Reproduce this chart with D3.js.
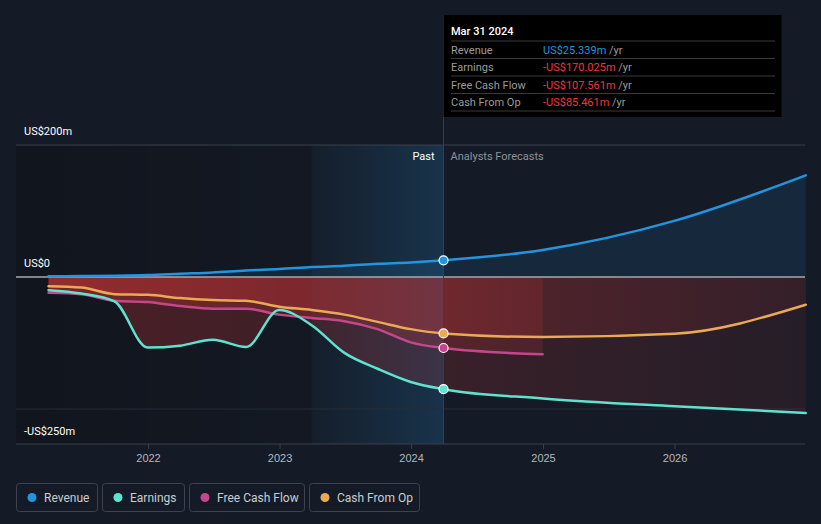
<!DOCTYPE html>
<html><head><meta charset="utf-8">
<script src="https://cdn.jsdelivr.net/npm/d3@7/dist/d3.min.js"></script>
<style>
html,body{margin:0;padding:0;background:#151b26;}
svg{display:block;font-family:Roboto,"Open Sans",sans-serif;}
</style></head>
<body><svg id="c" width="821" height="524"></svg>
<script>
// ---------- data ----------
const pastDates = ["2021-03-31","2021-06-30","2021-09-30","2021-12-31","2022-03-31","2022-06-30","2022-09-30","2022-12-31","2023-03-31","2023-06-30","2023-09-30","2023-12-31","2024-03-31"];
const revenuePast  = [1, 1.5, 2, 3, 5, 7, 10, 12, 15, 17, 20, 22, 25.339];
const earningsPast = [-20, -25, -37, -107, -104, -95, -106, -50, -73, -115, -139, -159, -170.025];
const fcfPast      = [-24, -26, -36, -38, -44, -48, -48, -57, -62, -67, -79, -99, -107.561];
const cfoPast      = [-14, -16, -26, -27, -32, -35, -36, -45, -50, -57, -68, -79, -85.461];

const fcDates = ["2024-03-31","2024-12-31","2025-12-31","2026-12-31"];
const revenueFc  = [25.339, 41, 85, 154];
const earningsFc = [-170.025, -184, -196, -206];
const cfoFc      = [-85.461, -91, -86, -42];
const fcfFcDates = ["2024-03-31","2024-12-31"];
const fcfFc      = [-107.561, -117];

const yearTicks = [2022, 2023, 2024, 2025, 2026];
const yTickVals = [200, 0, -250];
const yTickLabels = ["US$200m", "US$0", "-US$250m"];
const legendNames = ["Revenue", "Earnings", "Free Cash Flow", "Cash From Op"];
const colors = ["#2394df", "#5fe3cf", "#c5478b", "#e9a955"];
const tipTitle = "Mar 31 2024";
const tipLabels = ["Revenue", "Earnings", "Free Cash Flow", "Cash From Op"];
const tipValues = ["US$25.339m", "-US$170.025m", "-US$107.561m", "-US$85.461m"];
const pastDate = "2024-03-31";
const highlightStart = "2023-03-31";

// ---------- setup ----------
const svg = d3.select("#c");
const parse = d3.timeParse("%Y-%m-%d");
const L = 16, R = 805, TOP = 145, BOT = 444;
const x = d3.scaleTime().domain([new Date(2022,0,1), new Date(2025,0,1)]).range([148, 543]);
const y = d3.scaleLinear().domain([-250, 200]).range([442, 145]);
const zip = (ds, vs) => ds.map((d,i) => ({date: parse(d), v: vs[i]}));

const series = [
  {past: zip(pastDates, revenuePast), fc: zip(fcDates, revenueFc)},
  {past: zip(pastDates, earningsPast), fc: zip(fcDates, earningsFc)},
  {past: zip(pastDates, fcfPast), fc: zip(fcfFcDates, fcfFc)},
  {past: zip(pastDates, cfoPast), fc: zip(fcDates, cfoFc)}
];

const defs = svg.append("defs");
const gDark = defs.append("linearGradient").attr("id","gDark").attr("x1","0").attr("x2","1");
gDark.append("stop").attr("offset","0").attr("stop-color","#000").attr("stop-opacity",0.22);
gDark.append("stop").attr("offset","1").attr("stop-color","#000").attr("stop-opacity",0.1);
const gHi = defs.append("linearGradient").attr("id","gHi").attr("x1","0").attr("x2","1");
gHi.append("stop").attr("offset","0").attr("stop-color","#2394df").attr("stop-opacity",0.03);
gHi.append("stop").attr("offset","1").attr("stop-color","#2394df").attr("stop-opacity",0.2);
const gRed = defs.append("linearGradient").attr("id","gRed").attr("gradientUnits","userSpaceOnUse")
  .attr("x1", L).attr("x2", R).attr("y1",0).attr("y2",0);
gRed.append("stop").attr("offset","0").attr("stop-color","#dc3738").attr("stop-opacity",0.3);
gRed.append("stop").attr("offset","0.54").attr("stop-color","#dc3738").attr("stop-opacity",0.18);
gRed.append("stop").attr("offset","1").attr("stop-color","#dc3738").attr("stop-opacity",0.08);

// background regions
const xPast = x(parse(pastDate)), xHi = x(parse(highlightStart));
svg.append("rect").attr("x", L).attr("y", TOP).attr("width", xHi - L).attr("height", BOT - TOP).attr("fill","url(#gDark)");
svg.append("rect").attr("x", xHi).attr("y", TOP).attr("width", xPast - xHi).attr("height", BOT - TOP).attr("fill","url(#gHi)");

// gridlines
svg.append("line").attr("x1",L).attr("x2",R).attr("y1",y(200)).attr("y2",y(200)).attr("stroke","#3b404b").attr("stroke-width",1);
svg.append("line").attr("x1",L).attr("x2",R).attr("y1",y(-200)).attr("y2",y(-200)).attr("stroke","#262c37").attr("stroke-width",1);

// areas
const curve = d3.curveMonotoneX;
const area = d3.area().x(d => x(d.date)).y0(y(0)).y1(d => y(d.v)).curve(curve);
const line = d3.line().x(d => x(d.date)).y(d => y(d.v)).curve(curve);
const allPts = s => s.past.concat(s.fc.slice(1));

svg.append("path").datum(allPts(series[0])).attr("d", area).attr("fill","#2394df").attr("fill-opacity",0.12);
[1,2,3].forEach(i => {
  svg.append("path").datum(allPts(series[i])).attr("d", area).attr("fill","url(#gRed)");
});

// zero line
svg.append("line").attr("x1",L).attr("x2",R).attr("y1",y(0)).attr("y2",y(0)).attr("stroke","#a8a8ab").attr("stroke-width",1.5);

// bottom axis
const xAxis = d3.axisBottom(x).tickValues(yearTicks.map(t => new Date(t,0,1))).tickFormat(d3.timeFormat("%Y")).tickSize(5).tickSizeOuter(0);
const ax = svg.append("g").attr("transform",`translate(0,${BOT})`).call(xAxis);
ax.select(".domain").attr("d", `M${L},0H${R}`).attr("stroke","#3b404b");
ax.selectAll(".tick line").attr("stroke","#3b404b");
ax.selectAll(".tick text").attr("fill","#b3b7bd").attr("font-size",11).attr("dy","0.95em");

// lines
[3,2,1,0].forEach(i => {
  svg.append("path").datum(allPts(series[i])).attr("d", line).attr("fill","none")
    .attr("stroke", colors[i]).attr("stroke-width",2.5).attr("stroke-linecap","round");
});

// past marker line
svg.append("line").attr("x1",xPast).attr("x2",xPast).attr("y1",15).attr("y2",BOT).attr("stroke","#2e4256").attr("stroke-width",1);

// markers
[3,2,1,0].forEach(i => {
  const p = series[i].past[series[i].past.length-1];
  svg.append("circle").attr("cx",x(p.date)).attr("cy",y(p.v)).attr("r",4.5)
    .attr("fill",colors[i]).attr("stroke","#fff").attr("stroke-width",1.2);
});

// y labels
yTickVals.forEach((v,i) => {
  const yy = v === -250 ? y(v) - 7 : y(v) - 10;
  svg.append("text").attr("x",24).attr("y",yy).attr("fill","#fff").attr("font-size",11).text(yTickLabels[i]);
});

// Past / Forecast labels
svg.append("text").attr("x",xPast-9).attr("y",160).attr("text-anchor","end").attr("fill","#fff").attr("font-size",11).text("Past");
svg.append("text").attr("x",xPast+7).attr("y",160).attr("fill","#8d929a").attr("font-size",11).text("Analysts Forecasts");

// tooltip
const tip = svg.append("g");
tip.append("rect").attr("x",xPast).attr("y",15).attr("width",338).attr("height",102).attr("fill","#000");
tip.append("text").attr("x",451).attr("y",35).attr("fill","#fff").attr("font-size",11).attr("font-weight",500).text(tipTitle);
const lineYs = [41, 58.5, 76, 93.5, 111];
lineYs.forEach(ly => tip.append("line").attr("x1",451).attr("x2",775).attr("y1",ly).attr("y2",ly).attr("stroke","#3a3a3a").attr("stroke-width",1));
tipLabels.forEach((t,i) => {
  const ty = 53.5 + i*17.5;
  tip.append("text").attr("x",451).attr("y",ty).attr("fill","#9b9b9b").attr("font-size",11).text(t);
  const tx = tip.append("text").attr("x",543).attr("y",ty).attr("font-size",11);
  tx.append("tspan").attr("fill", i===0 ? "#2394df" : "#f0363c").text(tipValues[i]);
  tx.append("tspan").attr("fill","#9b9b9b").text(" /yr");
});

// legend
const legX = [16, 102, 189, 309];
const legW = [81, 82, 115, 110];
legendNames.forEach((n,i) => {
  const g = svg.append("g").attr("transform",`translate(${legX[i]},483)`);
  g.append("rect").attr("x",0.5).attr("y",0.5).attr("width",legW[i]).attr("height",28).attr("rx",3)
    .attr("fill","none").attr("stroke","#3c4250");
  g.append("circle").attr("cx",16).attr("cy",14.5).attr("r",4.5).attr("fill",colors[i]);
  g.append("text").attr("x",28).attr("y",18.5).attr("fill","#c9cdd3").attr("font-size",12).text(n);
});
</script></body></html>
